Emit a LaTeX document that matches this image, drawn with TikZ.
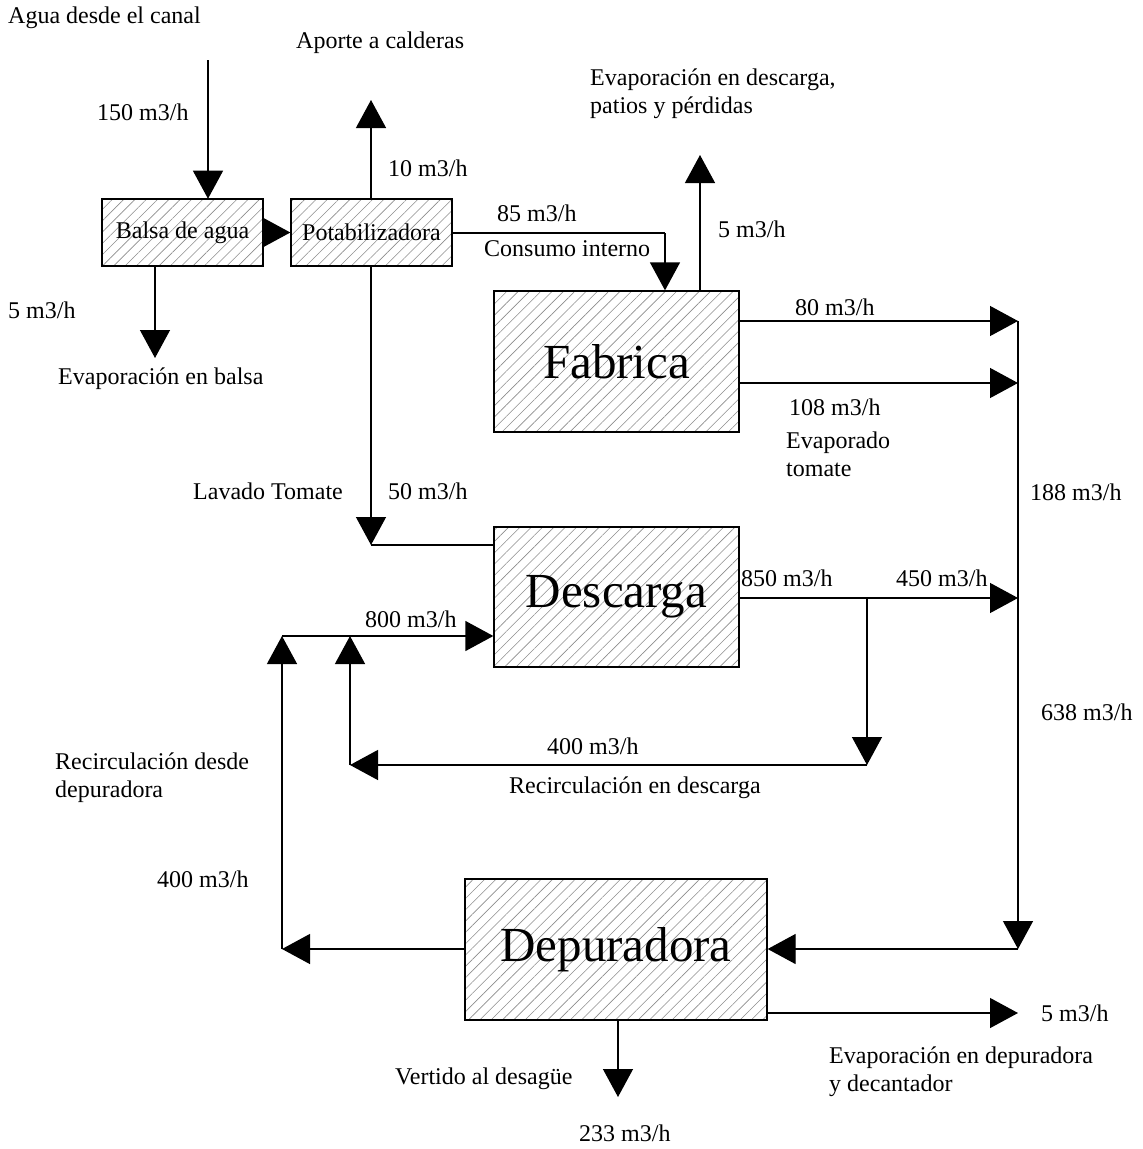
\documentclass[tikz,border=0pt]{standalone}
\usepackage{fontspec}
\setmainfont{Liberation Serif}
\usetikzlibrary{arrows.meta,patterns.meta}
\begin{document}
\begin{tikzpicture}[x=1pt,y=-1pt,
  flow/.style={line width=1.3pt,-{Triangle[length=28pt,width=30pt]}},
  pipe/.style={line width=1.3pt},
  box/.style={draw,line width=1.3pt,inner sep=0pt,
    pattern={Lines[angle=45,distance=8pt,line width=0.6pt]},pattern color=black!45},
  lbl/.style={anchor=west,inner sep=0pt,align=left,font=\fontsize{24}{28}\selectfont},
  big/.style={font=\fontsize{49}{52}\selectfont}]
\useasboundingbox (0,0) rectangle (1143,1149);
% boxes
\node[box,minimum width=161pt,minimum height=67pt,font=\fontsize{24}{28}\selectfont] (balsa) at (182.5,232.5) {Balsa de agua};
\node[box,minimum width=161pt,minimum height=67pt,font=\fontsize{24}{28}\selectfont] (potab) at (371.5,232.5) {Potabilizadora};
\node[box,minimum width=245pt,minimum height=141pt,big] (fab) at (616.5,361.5) {Fabrica};
\node[box,minimum width=245pt,minimum height=140pt,big] (desc) at (616.5,597) {Descarga};
\node[box,minimum width=302pt,minimum height=141pt,big] (dep) at (616,949.5) {Depuradora};
% coordinates
\coordinate (canal) at (208,60);
\coordinate (evbalsa) at (155,358);
\coordinate (cald) at (371,100);
\coordinate (c85) at (665,233);
\coordinate (evfab) at (700,155);
\coordinate (col80) at (1018,321);
\coordinate (col108) at (1018,383);
\coordinate (col450) at (1018,598);
\coordinate (colbot) at (1018,949);
\coordinate (lav) at (371,545);
\coordinate (split) at (867,598);
\coordinate (r1) at (867,765);
\coordinate (r2) at (350,765);
\coordinate (r3) at (350,636);
\coordinate (d1) at (282,949);
\coordinate (d2) at (282,636);
\coordinate (ev5) at (1018,1013);
\coordinate (vert) at (618,1097);
% connectors
\draw[flow] (canal) -- (balsa.north -| canal);
\draw[flow] (balsa.east) -- (potab.west);
\draw[flow] (balsa.south -| evbalsa) -- (evbalsa);
\draw[flow] (potab.north -| cald) -- (cald);
\draw[pipe] (potab.east |- c85) -- (c85);
\draw[flow] (c85) -- (fab.north -| c85);
\draw[flow] (fab.north -| evfab) -- (evfab);
\draw[flow] (fab.east |- col80) -- (col80);
\draw[flow] (fab.east |- col108) -- (col108);
\draw[flow] (col80) -- (colbot);
\draw[flow] (colbot) -- (dep.east |- colbot);
\draw[flow] (potab.south -| lav) -- (lav);
\draw[pipe] (lav) -- (desc.west |- lav);
\draw[flow] (desc.east |- col450) -- (col450);
\draw[flow] (split) -- (r1);
\draw[flow] (r1) -- (r2);
\draw[flow] (r2) -- (r3);
\draw[flow] (dep.west |- d1) -- (d1);
\draw[flow] (d1) -- (d2);
\draw[flow] (d2) -- (desc.west |- d2);
\draw[flow] (dep.east |- ev5) -- (ev5);
\draw[flow] (dep.south -| vert) -- (vert);
% labels
\node[lbl] (t1) at (8,18) {Agua desde el canal};
\node[lbl] (t2) at (296,43) {Aporte a calderas};
\node[lbl] (t3) at (97,112) {150 m3/h};
\node[lbl] (t4) at (590,94) {Evaporación en descarga,\\patios y pérdidas};
\node[lbl] (t5) at (388,168) {10 m3/h};
\node[lbl] (t6) at (497,213) {85 m3/h};
\node[lbl] (t7) at (718,229) {5 m3/h};
\node[lbl] (t8) at (484,249) {Consumo interno};
\node[lbl] (t9) at (8,310) {5 m3/h};
\node[lbl] (t10) at (795,307) {80 m3/h};
\node[lbl] (t11) at (58,379) {Evaporación en balsa};
\node[lbl] (t12) at (789,407) {108 m3/h};
\node[lbl] (t13) at (786,454) {Evaporado\\tomate};
\node[lbl] (t14) at (193,491) {Lavado Tomate};
\node[lbl] (t15) at (388,491) {50 m3/h};
\node[lbl] (t16) at (1030,492) {188 m3/h};
\node[lbl] (t17) at (741,578) {850 m3/h};
\node[lbl] (t18) at (896,578) {450 m3/h};
\node[lbl] (t19) at (365,619) {800 m3/h};
\node[lbl] (t20) at (1041,712) {638 m3/h};
\node[lbl] (t21) at (547,746) {400 m3/h};
\node[lbl] (t22) at (55,778) {Recirculación desde\\depuradora};
\node[lbl] (t23) at (509,788) {Recirculación en descarga};
\node[lbl] (t24) at (157,879) {400 m3/h};
\node[lbl] (t25) at (1041,1013) {5 m3/h};
\node[lbl] (t26) at (829,1072) {Evaporación en depuradora\\y decantador};
\node[lbl] (t27) at (395,1079) {Vertido al desagüe};
\node[lbl] (t28) at (579,1133) {233 m3/h};
\end{tikzpicture}
\end{document}
